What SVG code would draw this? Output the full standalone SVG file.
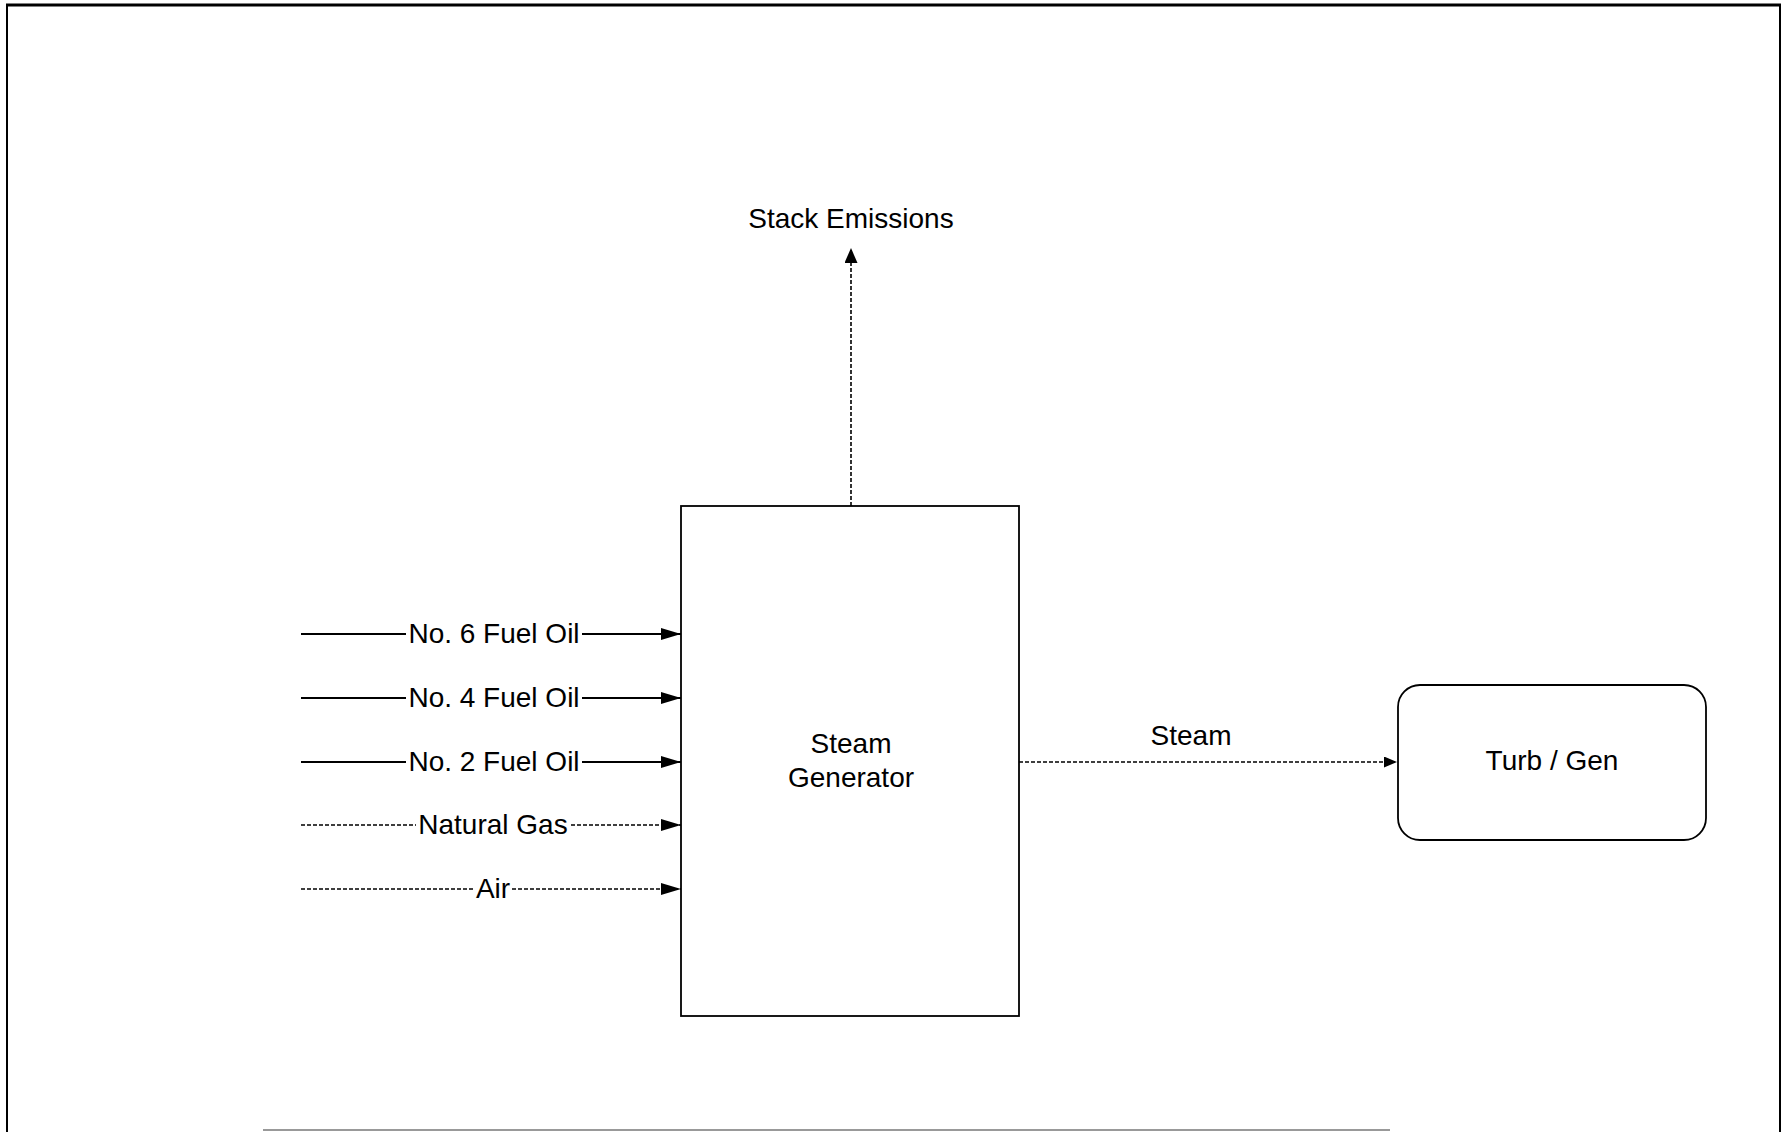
<svg xmlns="http://www.w3.org/2000/svg" width="1783" height="1132" viewBox="0 0 1783 1132">
<defs>
<style>
text{font-family:"Liberation Sans",Arial,sans-serif;font-size:28px;fill:#000;text-anchor:middle}
.solid{stroke:#000;stroke-width:1.8;fill:none}
.dash{stroke:#000;stroke-width:1.6;fill:none;stroke-dasharray:4 2}
.box{stroke:#000;stroke-width:1.8;fill:#fff}
</style>
<marker id="ah" viewBox="0 0 20 12" refX="20" refY="6" markerWidth="20" markerHeight="12" markerUnits="userSpaceOnUse" orient="auto">
<path d="M0,0 L20,6 L0,12 Z" fill="#000"/>
</marker>
<marker id="ahv" viewBox="0 0 15 13" refX="15" refY="6.5" markerWidth="15" markerHeight="13" markerUnits="userSpaceOnUse" orient="auto">
<path d="M0,0 L15,6.5 L0,13 Z" fill="#000"/>
</marker>
<marker id="ahs" viewBox="0 0 13 11" refX="13" refY="5.5" markerWidth="13" markerHeight="11" markerUnits="userSpaceOnUse" orient="auto">
<path d="M0,0 L13,5.5 L0,11 Z" fill="#000"/>
</marker>
</defs>
<rect width="1783" height="1132" fill="#fff"/>
<g id="frame">
<line x1="6" y1="5" x2="1781" y2="5" stroke="#000" stroke-width="3"/>
<line x1="7" y1="4" x2="7" y2="1132" stroke="#000" stroke-width="2"/>
<line x1="1780" y1="4" x2="1780" y2="1132" stroke="#000" stroke-width="2"/>
<line x1="263" y1="1130" x2="1390" y2="1130" stroke="#999" stroke-width="2"/>
</g>
<g id="connectors">
<line class="dash" x1="851" y1="506" x2="851" y2="248" marker-end="url(#ahv)"/>
<line class="solid" x1="301" y1="634" x2="406" y2="634"/>
<line class="solid" x1="582" y1="634" x2="681" y2="634" marker-end="url(#ah)"/>
<line class="solid" x1="301" y1="698" x2="406" y2="698"/>
<line class="solid" x1="582" y1="698" x2="681" y2="698" marker-end="url(#ah)"/>
<line class="solid" x1="301" y1="762" x2="406" y2="762"/>
<line class="solid" x1="582" y1="762" x2="681" y2="762" marker-end="url(#ah)"/>
<line class="dash" x1="301" y1="825" x2="416" y2="825"/>
<line class="dash" x1="571" y1="825" x2="681" y2="825" marker-end="url(#ah)"/>
<line class="dash" x1="301" y1="889" x2="474" y2="889"/>
<line class="dash" x1="512" y1="889" x2="681" y2="889" marker-end="url(#ah)"/>
<line class="dash" x1="1019" y1="762" x2="1397" y2="762" marker-end="url(#ahs)"/>
</g>
<g id="labels">
<text x="851" y="228">Stack Emissions</text>
<text x="494" y="643">No. 6 Fuel Oil</text>
<text x="494" y="707">No. 4 Fuel Oil</text>
<text x="494" y="771">No. 2 Fuel Oil</text>
<text x="493" y="834">Natural Gas</text>
<text x="493" y="898">Air</text>
<text x="1191" y="745">Steam</text>
</g>
<g id="steam-generator">
<rect class="box" x="681" y="506" width="338" height="510"/>
<text x="851" y="753">Steam</text>
<text x="851" y="787">Generator</text>
</g>
<g id="turb-gen">
<rect class="box" x="1398" y="685" width="308" height="155" rx="22" ry="22"/>
<text x="1552" y="770">Turb / Gen</text>
</g>
</svg>
